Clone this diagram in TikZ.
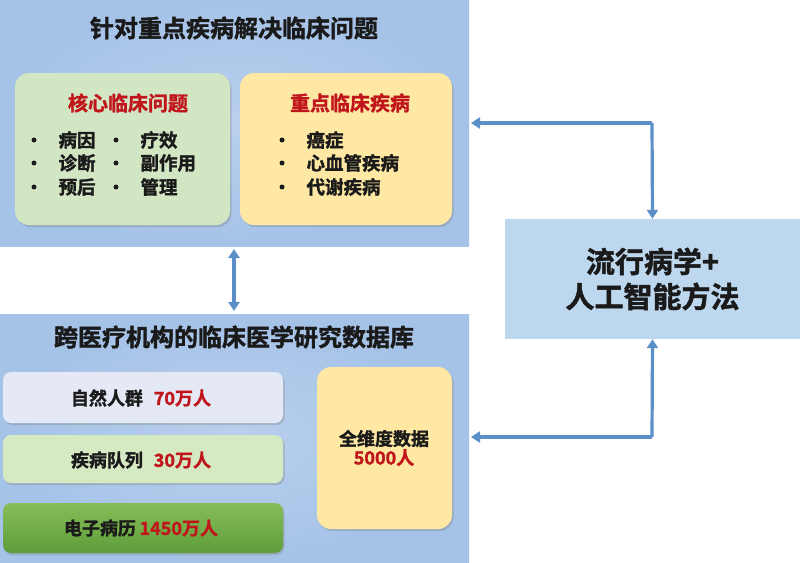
\documentclass[tikz,border=0pt]{standalone}
\usepackage{fontspec}
\setmainfont{Noto Sans CJK SC}[BoldFont={Noto Sans CJK SC Bold},BoldFeatures={FakeBold=1.5}]
\usetikzlibrary{arrows.meta,shadows}
\definecolor{bigblue}{HTML}{A5C2E7}
\definecolor{bigblueL}{HTML}{B9D0EE}
\definecolor{rightblue}{HTML}{BDD7EE}
\definecolor{softgreen}{HTML}{D3E6C4}
\definecolor{softyellow}{HTML}{FFE8A3}
\definecolor{lav}{HTML}{E4E9F5}
\definecolor{rowgreen}{HTML}{D5EAC3}
\definecolor{darkgreenA}{HTML}{86BE58}
\definecolor{darkgreenB}{HTML}{5E9D3A}
\definecolor{txtred}{HTML}{C0151B}
\definecolor{arrowblue}{HTML}{5B8FC8}
\definecolor{ink}{HTML}{1A1A1A}
\begin{document}
\begin{tikzpicture}[x=1pt,y=-1pt,
  bigpanel/.style={inner color=bigblueL,outer color=bigblue,draw=none},
  card/.style={rounded corners=14pt,draw=none,drop shadow={shadow xshift=1.5pt,shadow yshift=-2pt,opacity=0.35}},
  rowcard/.style={rounded corners=8pt,draw=none,drop shadow={shadow xshift=1.5pt,shadow yshift=-2pt,opacity=0.35}},
  ttl/.style={font=\bfseries\fontsize{24}{28}\selectfont,text=ink},
  head/.style={font=\bfseries\fontsize{20}{24}\selectfont,text=txtred},
  item/.style={font=\bfseries\fontsize{18.5}{21}\selectfont,text=ink,anchor=west},
  dot/.style={circle,fill=ink,inner sep=0pt,minimum size=5pt},
  rowtxt/.style={font=\bfseries\fontsize{18}{21}\selectfont,text=ink},
  conn/.style={draw=arrowblue,line width=3.2pt},
  tip/.style={-{Triangle[width=11pt,length=9pt]}},
  tips/.style={{Triangle[width=11pt,length=9pt]}-{Triangle[width=11pt,length=9pt]}}
]
\useasboundingbox (0,0) rectangle (800,562);
\fill[white] (0,0) rectangle (800,562);

% top panel
\path[bigpanel] (0,0) rectangle (469,246);
\node (toppanel) at (234.5,123) [minimum width=469pt,minimum height=246pt,inner sep=0pt] {};
\node[ttl] (toptitle) at (234,28) {针对重点疾病解决临床问题};

\path[card,fill=softgreen] (15,73) rectangle (230,225);
\node (green) at (122.5,149) [minimum width=215pt,minimum height=152pt,inner sep=0pt] {};
\node[head] (ghead) at (128,103) {核心临床问题};
\foreach \y/\a/\b [count=\i] in {140/病因/疗效,163/诊断/副作用,187/预后/管理}{
  \node[dot] (gd\i a) at (34,\y) {};
  \node[item] (gi\i a) at (55,\y) {\a};
  \node[dot] (gd\i b) at (116,\y) {};
  \node[item] (gi\i b) at (137,\y) {\b};
}

\path[card,fill=softyellow] (240,73) rectangle (452,225);
\node (yellow) at (346,149) [minimum width=212pt,minimum height=152pt,inner sep=0pt] {};
\node[head] (yhead) at (350,103) {重点临床疾病};
\foreach \y/\a [count=\i] in {140/癌症,163/心血管疾病,187/代谢疾病}{
  \node[dot] (yd\i) at (282,\y) {};
  \node[item] (yi\i) at (303,\y) {\a};
}

% bottom panel
\path[bigpanel] (0,314) rectangle (469,562);
\node (botpanel) at (234.5,438) [minimum width=469pt,minimum height=248pt,inner sep=0pt] {};
\node[ttl] (bottitle) at (234,337) {跨医疗机构的临床医学研究数据库};

\path[rowcard,fill=lav] (3,372) rectangle (283,423);
\node[rowtxt] (r1) at (141,398) {自然人群\hspace{0.6em}\textcolor{txtred}{70万人}};
\path[rowcard,fill=rowgreen] (3,435) rectangle (283,483);
\node[rowtxt] (r2) at (141,460) {疾病队列\hspace{0.6em}\textcolor{txtred}{30万人}};
\path[rowcard,top color=darkgreenA,bottom color=darkgreenB] (3,503) rectangle (283,553);
\node[rowtxt] (r3) at (141,528) {电子病历\hspace{0.2em}\textcolor{txtred}{1450万人}};

\path[card,fill=softyellow] (317,367) rectangle (452,529);
\node (full) at (384.5,448) [minimum width=135pt,minimum height=162pt,inner sep=0pt] {};
\node[rowtxt,align=center] (fulltxt) at (384,448) {全维度数据\\[-2pt]\textcolor{txtred}{5000人}};

% right box
\path[fill=rightblue] (505,219) rectangle (800,339);
\node (ai) at (652.5,279) [minimum width=295pt,minimum height=120pt,inner sep=0pt,
  font=\bfseries\fontsize{29}{35}\selectfont,text=ink,align=center] {流行病学+\\人工智能方法};

% connectors
\coordinate (tcorner) at (652,123);
\coordinate (bcorner) at (652,437);
\draw[conn,tips] (234,249) -- (234,311);
\draw[conn,tip] (tcorner) -- (471,123);
\draw[conn,tip] (tcorner) -- (ai.north);
\draw[conn,tip] (bcorner) -- (471,437);
\draw[conn,tip] (bcorner) -- (ai.south);
\end{tikzpicture}
\end{document}
